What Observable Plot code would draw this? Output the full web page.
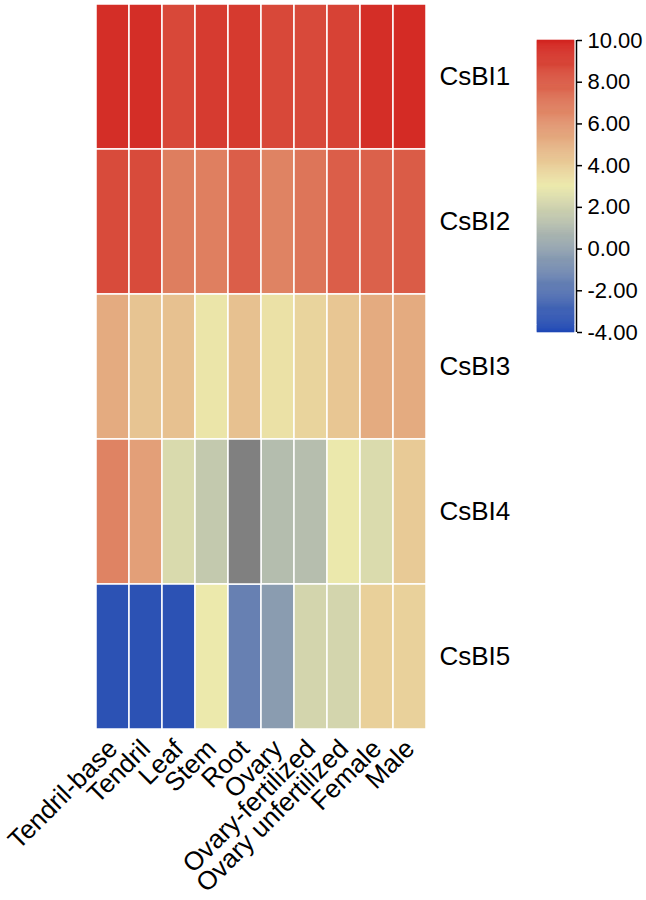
<!DOCTYPE html>
<html>
<head>
<meta charset="utf-8">
<script src="https://cdn.jsdelivr.net/npm/d3@7"></script>
<script src="https://cdn.jsdelivr.net/npm/@observablehq/plot@0.6"></script>
<style>
  html, body { margin: 0; padding: 0; background: #fff; }
  #wrap { position: relative; width: 646px; height: 900px; font-family: "Liberation Sans", Arial, sans-serif; }
  #wrap svg { position: absolute; top: 0; }
</style>
</head>
<body>
<div id="wrap"></div>
<script>
const tissues = ["Tendril-base","Tendril","Leaf","Stem","Root","Ovary","Ovary-fertilized","Ovary unfertilized","Female","Male"];
const genes = ["CsBI1","CsBI2","CsBI3","CsBI4","CsBI5"];
const CsBI1 = [9.6, 9.6, 8.7, 9.15, 9.2, 8.7, 8.65, 8.9, 9.6, 9.7];
const CsBI2 = [8.6, 8.6, 6.8, 6.75, 7.9, 6.6, 7.1, 7.9, 7.8, 8.0];
const CsBI3 = [5.2, 4.3, 4.4, 3.15, 4.4, 3.3, 3.75, 4.25, 5.2, 5.2];
const CsBI4 = [6.6, 5.6, 2.35, 1.6, null, 1.1, 1.15, 2.95, 2.4, 4.1];
const CsBI5 = [-3.55, -3.55, -3.55, 3.0, -1.55, -0.35, 2.15, 2.15, 3.9, 3.85];
const legendTicks = [-4, -2, 0, 2, 4, 6, 8, 10];

const series = {CsBI1, CsBI2, CsBI3, CsBI4, CsBI5};
const table = genes.flatMap(g => tissues.map((t, i) => ({gene: g, tissue: t, value: series[g][i]})));

const colorOpts = {type: "linear", domain: [-4, 3, 10], range: ["#1f48b5", "#ece9ac", "#d3231f"], interpolate: "rgb", clamp: true};
const font = "Liberation Sans, Arial, sans-serif";

const main = Plot.plot({
  width: 646, height: 900,
  marginLeft: 91, marginRight: 216, marginTop: 3, marginBottom: 170,
  style: {fontFamily: font, fontSize: "26px", color: "#000", background: "transparent"},
  x: {domain: tissues, padding: 0, label: null},
  y: {domain: genes, padding: 0, label: null},
  color: colorOpts,
  marks: [
    Plot.cell(table.filter(d => d.value != null), {x: "tissue", y: "gene", fill: "value", stroke: "white", strokeWidth: 1.5}),
    Plot.cell(table.filter(d => d.value == null), {x: "tissue", y: "gene", fill: "#808080", stroke: "white", strokeWidth: 1.5}),
    Plot.axisX({anchor: "bottom", tickSize: 0, tickPadding: 14, tickRotate: -45, fontSize: 26, label: null}),
    Plot.axisY({anchor: "right", tickSize: 0, tickPadding: 9, fontSize: 26, label: null})
  ]
});
document.getElementById("wrap").appendChild(main);

const step = 0.05;
const ramp = d3.range(-4, 10, step).map(v => ({v}));
const legend = Plot.plot({
  width: 109, height: 345,
  marginLeft: 0, marginRight: 72, marginTop: 40, marginBottom: 13,
  style: {fontFamily: font, fontSize: "22px", color: "#000", background: "transparent", overflow: "visible"},
  x: {axis: null, domain: [0, 1]},
  y: {domain: [-4, 10], label: null, axis: null},
  color: colorOpts,
  marks: [
    Plot.rect(ramp, {x1: 0, x2: 1, y1: "v", y2: d => Math.min(10, d.v + step), fill: "v", stroke: "v", strokeWidth: 0.6}),
    Plot.ruleX([1], {y1: -4, y2: 10, dx: 2, stroke: "#000", strokeWidth: 1.5}),
    Plot.axisY(legendTicks, {anchor: "right", tickSize: 5, tickPadding: 6, dx: 2, fontSize: 22, tickFormat: d => d.toFixed(2), label: null, strokeWidth: 1.5})
  ]
});
legend.style.left = "537px";
document.getElementById("wrap").appendChild(legend);
</script>
</body>
</html>
